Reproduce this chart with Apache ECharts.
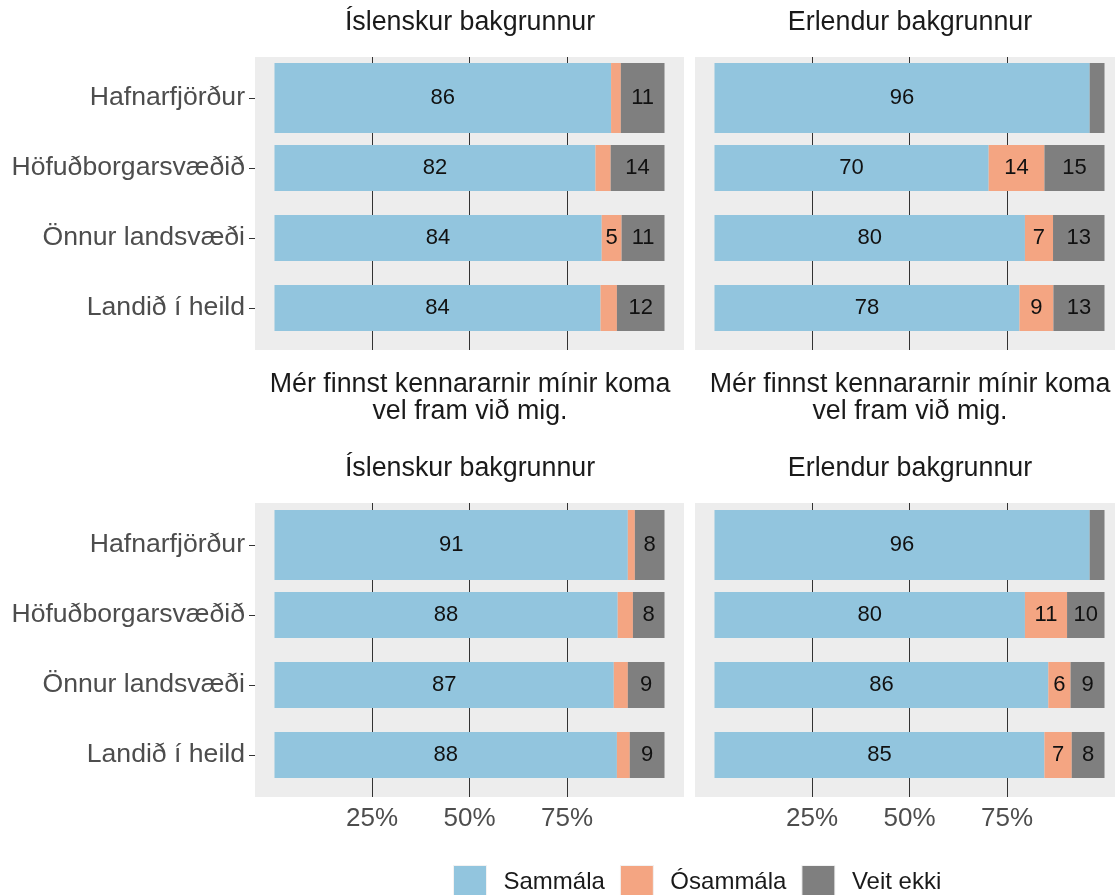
<!DOCTYPE html>
<html>
<head>
<meta charset="utf-8">
<script src="https://cdn.jsdelivr.net/npm/echarts@6/dist/echarts.min.js"></script>
<style>
  html, body { margin: 0; padding: 0; background: #fff; }
  #chart { width: 1115px; height: 895px; }
</style>
</head>
<body>
<div id="chart"></div>
<script>
// categories, top to bottom
const regions = ['Hafnarfjörður', 'Höfuðborgarsvæðið', 'Önnur landsvæði', 'Landið í heild'];
const answers = ['Sammála', 'Ósammála', 'Veit ekki'];
const tickValues = [25, 50, 75];

// top row (question cut off above), percentages
const topIslSammala = [86.3, 82.3, 83.9, 83.6];
const topIslOsammala = [2.5, 3.9, 5.1, 4.2];
const topIslVeitEkki = [11.2, 13.8, 11.0, 12.2];
const topErlSammala = [96.2, 70.3, 79.6, 78.2];
const topErlOsammala = [0, 14.3, 7.2, 8.7];
const topErlVeitEkki = [3.8, 15.4, 13.2, 13.1];

// bottom row: Mér finnst kennararnir mínir koma vel fram við mig.
const botIslSammala = [90.6, 88.0, 87.0, 87.8];
const botIslOsammala = [1.8, 3.9, 3.6, 3.3];
const botIslVeitEkki = [7.6, 8.1, 9.4, 8.9];
const botErlSammala = [96.2, 79.6, 85.6, 84.6];
const botErlOsammala = [0, 10.8, 5.7, 7.0];
const botErlVeitEkki = [3.8, 9.6, 8.7, 8.4];

const colors = ['#92c5de', '#f4a582', '#7f7f7f'];
const FONT = 'Liberation Sans, Arial, sans-serif';

// full panel is 429px for -5..105; the right column is cut by the window edge,
// so its axis ends early to keep the same scale
const panelW = 429;
const rightMax = -5 + (1115 - 695) * 110 / panelW;

const panels = [
  { left: 255, width: panelW, max: 105, bgTop: 57, bgH: 293, barTop: 63, ylab: true, xlab: false,
    data: [topIslSammala, topIslOsammala, topIslVeitEkki] },
  { left: 695, width: 420, max: rightMax, bgTop: 57, bgH: 293, barTop: 63, ylab: false, xlab: false,
    data: [topErlSammala, topErlOsammala, topErlVeitEkki] },
  { left: 255, width: panelW, max: 105, bgTop: 503, bgH: 294, barTop: 510, ylab: true, xlab: true,
    data: [botIslSammala, botIslOsammala, botIslVeitEkki] },
  { left: 695, width: 420, max: rightMax, bgTop: 503, bgH: 294, barTop: 510, ylab: false, xlab: true,
    data: [botErlSammala, botErlOsammala, botErlVeitEkki] }
];

const grid = [], xAxis = [], yAxis = [], series = [];

panels.forEach((p, k) => {
  // background panel with gridlines
  grid.push({ left: p.left, width: p.width, top: p.bgTop, height: p.bgH,
    show: true, backgroundColor: '#ededed', borderWidth: 0 });
  // bars
  grid.push({ left: p.left, width: p.width, top: p.barTop, height: 280 });

  xAxis.push({
    type: 'value', gridIndex: k * 2, min: -5, max: p.max,
    axisLine: { show: false },
    axisTick: { show: false, customValues: tickValues },
    splitLine: { show: true, lineStyle: { color: '#333333', width: 1 } },
    axisLabel: {
      show: p.xlab, customValues: tickValues, formatter: '{value}%',
      fontFamily: FONT, fontSize: 26, color: '#4d4d4d', margin: 9
    }
  });
  xAxis.push({ type: 'value', gridIndex: k * 2 + 1, min: -5, max: p.max, show: false,
    splitLine: { show: false } });

  yAxis.push({ type: 'value', gridIndex: k * 2, show: false, min: 0, max: 1,
    splitLine: { show: false } });
  yAxis.push({
    type: 'category', gridIndex: k * 2 + 1, data: regions, inverse: true,
    show: p.ylab,
    axisLine: { show: false, onZero: false },
    axisTick: { show: true, alignWithLabel: true, length: 6, lineStyle: { color: '#333333' } },
    axisLabel: { fontFamily: FONT, fontSize: 26.6, color: '#4d4d4d', margin: 10 }
  });
  yAxis.push({ type: 'category', gridIndex: k * 2 + 1, data: regions, inverse: true, show: false,
    axisLine: { onZero: false } });

  answers.forEach((name, j) => {
    const vals = p.data[j];
    const label = {
      show: true, position: 'inside', fontFamily: FONT, fontSize: 22, color: '#111',
      formatter: (d) => (Math.round(d.value) >= 5 ? String(Math.round(d.value)) : '')
    };
    // narrower bars for the regions
    series.push({
      name, type: 'bar', stack: 'n' + k, xAxisIndex: k * 2 + 1, yAxisIndex: k * 3 + 1,
      barWidth: 46, itemStyle: { color: colors[j] }, label,
      data: vals.map((v, i) => (i === 0 ? '-' : v))
    });
    // full width bar for Hafnarfjörður
    series.push({
      name, type: 'bar', stack: 'w' + k, xAxisIndex: k * 2 + 1, yAxisIndex: k * 3 + 2,
      barWidth: 70, itemStyle: { color: colors[j] }, label,
      data: vals.map((v, i) => (i === 0 ? v : '-'))
    });
  });
});

const titleStyle = { fontFamily: FONT, fontSize: 26.8, fontWeight: 'normal', color: '#1a1a1a', lineHeight: 27 };
const question = 'Mér finnst kennararnir mínir koma\nvel fram við mig.';

const option = {
  animation: false,
  textStyle: { fontFamily: FONT },
  title: [
    { text: 'Íslenskur bakgrunnur', left: 470, top: 9, textAlign: 'center', padding: 0, textStyle: titleStyle },
    { text: 'Erlendur bakgrunnur', left: 910, top: 9, textAlign: 'center', padding: 0, textStyle: titleStyle },
    { text: question, left: 470, top: 371, textAlign: 'center', padding: 0, textStyle: titleStyle },
    { text: question, left: 910, top: 371, textAlign: 'center', padding: 0, textStyle: titleStyle },
    { text: 'Íslenskur bakgrunnur', left: 470, top: 455, textAlign: 'center', padding: 0, textStyle: titleStyle },
    { text: 'Erlendur bakgrunnur', left: 910, top: 455, textAlign: 'center', padding: 0, textStyle: titleStyle }
  ],
  legend: {
    data: answers, left: 453, top: 865, padding: 0,
    icon: 'rect', itemWidth: 33, itemHeight: 33, itemGap: 15,
    itemStyle: { borderColor: '#f2f2f2', borderWidth: 1 },
    textStyle: { fontFamily: FONT, fontSize: 24, color: '#1a1a1a', padding: [0, 0, 0, 12] },
    selectedMode: false
  },
  grid, xAxis, yAxis, series
};

const chart = echarts.init(document.getElementById('chart'));
chart.setOption(option);
</script>
</body>
</html>
